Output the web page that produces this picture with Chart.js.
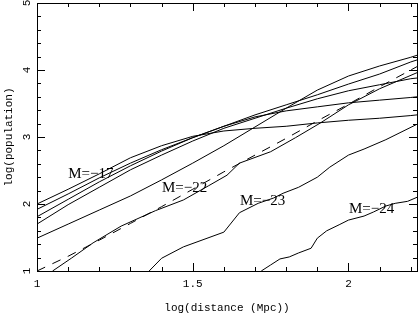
<!DOCTYPE html>
<html>
<head>
<meta charset="utf-8">
<script src="https://cdn.jsdelivr.net/npm/chart.js@4.4.1/dist/chart.umd.min.js"></script>
<style>
  html, body { margin: 0; padding: 0; background: #fff; }
  canvas { display: block; }
</style>
</head>
<body>
<canvas id="chart" width="418" height="316"></canvas>
<script>
// ---- data (log distance in Mpc, log population) ----
const logDist = [1.0, 1.1, 1.2, 1.3, 1.4, 1.5, 1.6, 1.7, 1.8, 1.9, 2.0, 2.1, 2.2, 2.22];
const popM17 = [2.00, 2.22, 2.45, 2.69, 2.87, 3.01, 3.09, 3.13, 3.16, 3.21, 3.25, 3.28, 3.32, 3.33];
const popM18 = [1.92, 2.15, 2.39, 2.61, 2.81, 2.99, 3.16, 3.30, 3.39, 3.45, 3.51, 3.55, 3.59, 3.60];
const popM19 = [1.81, 2.07, 2.33, 2.57, 2.79, 2.99, 3.16, 3.33, 3.48, 3.63, 3.79, 3.94, 4.12, 4.15];
const popM20 = [1.70, 1.99, 2.25, 2.51, 2.73, 2.94, 3.13, 3.28, 3.43, 3.57, 3.69, 3.78, 3.87, 3.88];
const popM21 = [1.49, 1.70, 1.91, 2.12, 2.36, 2.61, 2.87, 3.15, 3.43, 3.70, 3.91, 4.06, 4.19, 4.22];
const popTotal = [1.00, 1.22, 1.46, 1.71, 1.96, 2.22, 2.48, 2.73, 2.98, 3.24, 3.49, 3.75, 4.00, 4.05]; // dashed

const distM22 = [1.05, 1.11, 1.18, 1.27, 1.38, 1.47, 1.55, 1.61, 1.65, 1.75, 1.83, 1.91, 2.00, 2.10, 2.22];
const popM22  = [1.00, 1.19, 1.42, 1.67, 1.90, 2.06, 2.27, 2.43, 2.61, 2.78, 2.99, 3.21, 3.48, 3.72, 3.96];

const distM23 = [1.36, 1.40, 1.47, 1.60, 1.65, 1.71, 1.76, 1.79, 1.84, 1.90, 1.94, 2.00, 2.05, 2.12, 2.22];
const popM23  = [1.00, 1.19, 1.36, 1.58, 1.87, 2.01, 2.09, 2.16, 2.25, 2.40, 2.55, 2.73, 2.82, 2.96, 3.19];

const distM24 = [1.72, 1.75, 1.78, 1.81, 1.84, 1.88, 1.90, 1.93, 1.97, 2.00, 2.05, 2.08, 2.12, 2.15, 2.19, 2.22];
const popM24  = [1.00, 1.09, 1.18, 1.21, 1.27, 1.34, 1.49, 1.60, 1.69, 1.76, 1.82, 1.88, 1.97, 2.01, 2.04, 2.10];

const xMajor = [1, 1.5, 2];
const xMajorLabels = ['1', '1.5', '2'];
const yMajor = [1, 2, 3, 4, 5];
const yMajorLabels = ['1', '2', '3', '4', '5'];
const curveNames = ['M=−17', 'M=−22', 'M=−23', 'M=−24'];
const curveNameAt = [[1.173, 2.45], [1.474, 2.24], [1.724, 2.04], [2.074, 1.93]];

const MONO = '11px "Liberation Mono", "DejaVu Sans Mono", monospace';
const SERIF = '15px "Liberation Serif", "DejaVu Serif", serif';

function line(xs, ys, dash){
  return {
    data: xs.map((v, i) => ({ x: v, y: ys[i] })),
    borderColor: '#000', borderWidth: 1, borderDash: dash || [],
    pointRadius: 0, fill: false, tension: 0
  };
}

// frame, inward ticks on all four sides, tick labels, titles and curve names
const framePlugin = {
  id: 'frame',
  afterDatasetsDraw(chart){
    const { ctx, chartArea: a, scales: { x, y } } = chart;
    ctx.save();
    ctx.strokeStyle = '#000'; ctx.lineWidth = 1;
    ctx.strokeRect(a.left + 0.5, a.top + 0.5, a.right - a.left, a.bottom - a.top);

    ctx.beginPath();
    for (let i = 0; i <= 12; i++){
      const v = 1 + i * 0.1;
      const len = xMajor.some(m => Math.abs(m - v) < 1e-6) ? 8 : 4;
      const px = Math.round(x.getPixelForValue(v)) + 0.5;
      ctx.moveTo(px, a.bottom); ctx.lineTo(px, a.bottom - len);
      ctx.moveTo(px, a.top); ctx.lineTo(px, a.top + len);
    }
    for (let i = 0; i <= 20; i++){
      const v = 1 + i * 0.2;
      const len = yMajor.some(m => Math.abs(m - v) < 1e-6) ? 8 : 4;
      const py = Math.round(y.getPixelForValue(v)) + 0.5;
      ctx.moveTo(a.left, py); ctx.lineTo(a.left + len, py);
      ctx.moveTo(a.right, py); ctx.lineTo(a.right - len, py);
    }
    ctx.stroke();

    ctx.fillStyle = '#000';
    ctx.font = MONO; ctx.textAlign = 'center'; ctx.textBaseline = 'middle';
    xMajor.forEach((v, i) => ctx.fillText(xMajorLabels[i], x.getPixelForValue(v), a.bottom + 13));
    yMajor.forEach((v, i) => {
      ctx.save();
      ctx.translate(a.left - 10, y.getPixelForValue(v));
      ctx.rotate(-Math.PI / 2);
      ctx.fillText(yMajorLabels[i], 0, 0);
      ctx.restore();
    });
    ctx.fillText('log(distance (Mpc))', (a.left + a.right) / 2, a.bottom + 37);
    ctx.save();
    ctx.translate(9, (a.top + a.bottom) / 2);
    ctx.rotate(-Math.PI / 2);
    ctx.fillText('log(population)', 0, 0);
    ctx.restore();

    ctx.font = SERIF;
    curveNames.forEach((t, i) => {
      ctx.fillText(t, x.getPixelForValue(curveNameAt[i][0]), y.getPixelForValue(curveNameAt[i][1]));
    });
    ctx.restore();
  }
};

new Chart(document.getElementById('chart'), {
  type: 'line',
  data: {
    datasets: [
      line(logDist, popM17), line(logDist, popM18), line(logDist, popM19),
      line(logDist, popM20), line(logDist, popM21),
      line(logDist, popTotal, [9, 8]),
      line(distM22, popM22), line(distM23, popM23), line(distM24, popM24)
    ]
  },
  options: {
    responsive: false, animation: false, events: [],
    layout: { padding: { left: 37, right: 1, top: 3, bottom: 45 } },
    plugins: { legend: { display: false }, tooltip: { enabled: false } },
    scales: {
      x: { type: 'linear', min: 1, max: 2.22, display: false },
      y: { type: 'linear', min: 1, max: 5, display: false }
    }
  },
  plugins: [framePlugin]
});
</script>
</body>
</html>
